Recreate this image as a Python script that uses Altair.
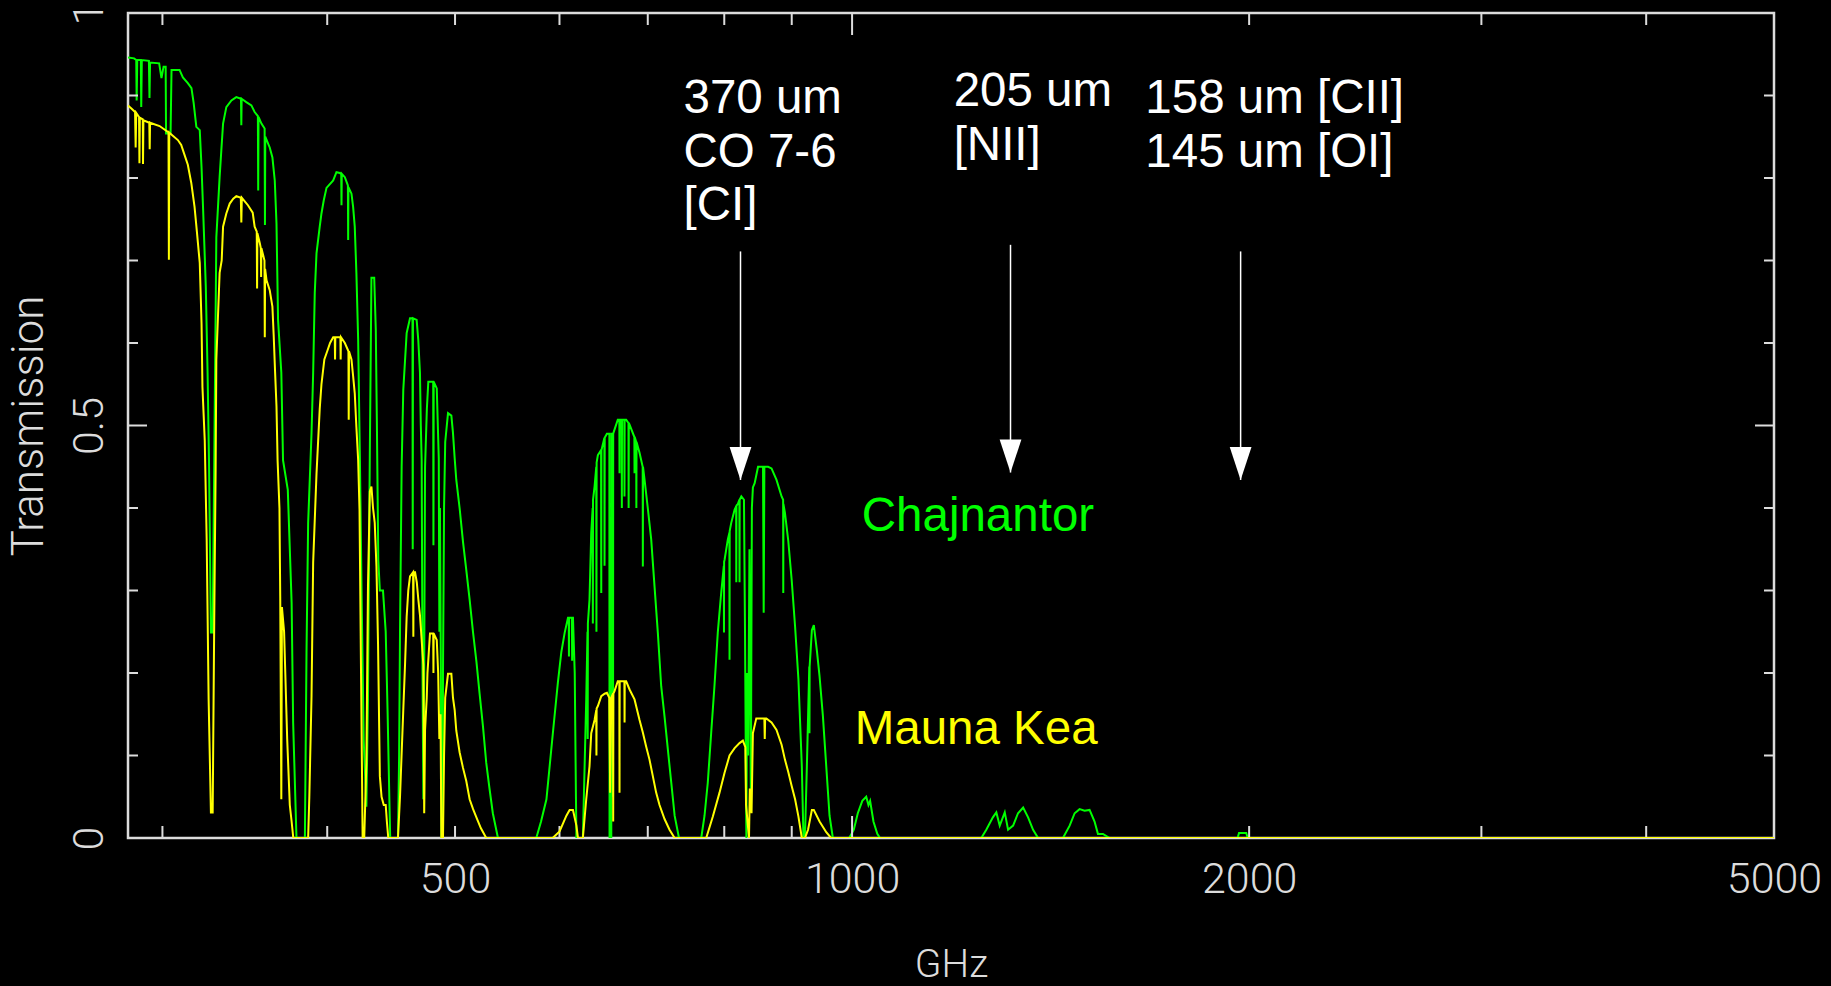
import altair as alt
import pandas as pd

# Atmospheric transmission spectra (frequency in GHz, transmission 0..1)
chaj_ghz = [
    282.5, 285.5, 286.6, 286.8, 287.1, 288.9, 289.1, 289.4, 293.0, 293.3, 293.6, 298.3, 299.5, 300.6, 301.7, 301.9,
    304.3, 304.8, 309.1, 310.9, 313.6, 315.6, 316.8, 318.3, 320.2, 321.2, 322.1, 323.6, 324.6, 325.4, 326.5, 327.5,
    328.4, 329.6, 331.5, 332.5, 333.5, 335.4, 338.4, 341.3, 344.1, 344.3, 344.5, 347.3, 350.4, 352.4, 354.4, 354.6,
    354.8, 356.6, 358.6, 358.8, 359.0, 361.8, 363.5, 365.0, 366.1, 367.1, 369.2, 370.3, 373.4, 375.9, 376.9, 379.1,
    384.7, 385.8, 386.9, 389.2, 390.3, 391.4, 392.6, 394.8, 396.0, 397.6, 399.5, 404.2, 406.5, 408.9, 409.9, 410.1,
    410.3, 412.5, 414.7, 414.9, 415.1, 417.3, 418.5, 419.7, 420.9, 422.2, 423.5, 424.8, 426.3, 428.3, 429.5, 430.9,
    432.1, 434.2, 435.4, 436.2, 437.3, 438.5, 440.9, 443.0, 444.5, 445.8, 446.5, 452.6, 453.5, 454.2, 455.5, 456.8,
    459.5, 462.2, 464.2, 464.4, 464.6, 467.6, 468.9, 470.3, 471.0, 471.7, 472.4, 473.1, 473.8, 474.5, 476.0, 477.2,
    481.3, 481.5, 481.7, 484.3, 486.0, 486.5, 487.0, 487.8, 488.3, 489.3, 489.6, 490.5, 491.5, 493.9, 496.8, 498.2,
    499.7, 501.1, 504.0, 507.0, 509.9, 512.9, 515.9, 519.0, 521.9, 525.0, 528.0, 531.0, 534.1, 538.9,
    576.2, 581.0, 586.5, 593.1, 598.3, 601.9, 605.5, 609.0, 609.8, 610.0, 610.2, 613.2, 613.4, 613.6, 614.3, 616.2,
    617.5, 618.0, 625.0, 628.7, 630.1, 630.3, 630.5, 632.3, 634.2, 635.8, 636.0, 636.2, 637.9, 639.8, 640.0, 640.2,
    641.6, 645.2, 645.4, 645.6, 648.9, 649.1, 649.3, 651.8, 654.6, 654.8, 656.8, 657.0, 658.6, 658.8, 659.0, 660.5,
    664.3, 666.1, 666.3, 666.5, 668.8, 669.0, 669.2, 671.9, 672.1, 672.3, 674.1, 676.8, 677.0, 677.2, 678.1, 683.8,
    684.0, 684.2, 686.0, 686.2, 686.4, 690.0, 693.8, 694.0, 694.2, 696.1, 700.0, 704.2, 708.3, 712.4, 716.6, 720.8,
    725.0, 729.3, 733.6, 739.2,
    768.5, 772.9, 777.3, 781.9, 786.4, 791.0, 795.7, 799.4, 799.6, 799.8, 800.4, 805.0, 807.2, 807.4, 807.6, 809.8,
    814.6, 816.8, 817.0, 817.2, 819.3, 821.4, 821.6, 821.8, 824.2, 828.0, 829.5, 831.0, 831.5, 832.5, 834.0, 836.0,
    838.0, 839.5, 841.0, 843.6, 848.6, 853.6, 856.0, 857.0, 858.0, 863.6, 868.8, 876.4, 884.2, 886.6, 886.8, 887.0,
    889.4, 894.6, 899.9, 905.3, 910.6, 916.0,
    918.6, 921.0, 924.1, 928.0, 928.3, 928.6, 932.2, 935.4, 940.4, 944.8, 950.3, 955.9, 961.4, 967.0,
    995.0, 1003.0, 1010.0, 1018.0, 1025.0, 1029.0, 1032.0, 1038.0, 1045.0, 1050.0,
    1253.0, 1264.0, 1278.6, 1286.4, 1294.0, 1305.4, 1313.0, 1324.6, 1336.0, 1348.0, 1359.7, 1371.6, 1383.6,
    1445.0, 1462.0, 1474.8, 1487.6, 1500.6, 1513.8, 1527.0, 1536.0, 1549.5, 1567.7,
    1960.0, 1965.0, 1990.0, 1995.0, 5000.0,
]
chaj_trans = [
    .946, .945, .943, .894, .943, .943, .886, .943, .942, .897, .940, .939, .921, .935, .935, .854,
    .854, .931, .931, .922, .915, .909, .891, .862, .858, .813, .761, .668, .564, .458, .249, .249,
    .455, .728, .801, .834, .866, .886, .894, .898, .896, .864, .896, .892, .888, .880, .875, .785,
    .874, .866, .860, .743, .850, .837, .825, .797, .745, .628, .564, .458, .422, .285, .140, 0,
    0, .225, .382, .491, .564, .661, .709, .741, .757, .773, .788, .797, .807, .806, .805, .767,
    .805, .801, .791, .725, .789, .781, .765, .741, .685, .604, .458, .289, .119, .038, .168, .470,
    .679, .679, .616, .507, .337, .30, .30, .25, .15, .05, 0, 0, .10, .25, .45, .543,
    .612, .630, .630, .35, .630, .628, .604, .564, .50, .458, .20, .047, .20, .45, .52, .553,
    .553, .355, .553, .545, .46, .25, .40, .20, 0, 0, .20, .40, .48, .515, .512, .491,
    .46, .434, .40, .359, .325, .289, .25, .214, .175, .135, .091, .06, .03, 0,
    0, .02, .047, .127, .188, .225, .249, .267, .267, .22, .267, .267, .215, .267, .267, .20,
    .05, 0, 0, .168, .25, .12, .26, .289, .37, .40, .26, .41, .426, .45, .25, .455,
    .464, .47, .297, .47, .485, .33, .485, .49, .49, 0, 0, .49, .49, .05, .49, .495,
    .507, .507, .442, .507, .507, .40, .507, .507, .414, .507, .507, .503, .40, .503, .501, .486,
    .442, .486, .48, .40, .48, .467, .45, .329, .45, .434, .40, .362, .305, .249, .184, .147,
    .107, .067, .027, 0,
    0, .027, .067, .127, .184, .249, .297, .33, .249, .335, .337, .362, .37, .216, .372, .382,
    .398, .402, .31, .403, .405, .41, .31, .41, .414, .41, .25, .05, 0, .20, .10, .35,
    .05, .40, .425, .430, .450, .450, .45, .273, .45, .450, .448, .434, .414, .41, .297, .405,
    .394, .36, .313, .256, .192, .087,
    0, 0, .087, .208, .127, .208, .252, .258, .227, .196, .148, .087, .027, 0,
    0, .01, .03, .045, .05, .04, .045, .02, .005, 0,
    0, .01, .025, .031, .015, .031, .01, .015, .03, .037, .025, .01, 0,
    0, .015, .03, .035, .033, .034, .02, .005, .005, 0,
    0, .006, .006, 0, 0,
]

mk_ghz = [
    282.5, 284.3, 286.0, 286.3, 286.6, 288.0, 288.2, 288.4, 289.9, 290.0, 290.2, 293.2, 293.4, 293.6, 298.5, 302.8,
    303.2, 303.4, 303.6, 308.2, 310.0, 311.8, 313.6, 315.5, 317.3, 318.6, 320.2, 321.2, 321.7, 323.0, 324.1, 325.2,
    326.5, 327.5, 328.4, 329.2, 329.6, 331.5, 332.7, 333.5, 335.4, 337.4, 339.5, 341.3, 344.0, 344.3, 344.6, 348.3,
    351.2, 352.4, 353.7, 353.9, 354.1, 355.6, 356.2, 356.4, 356.6, 358.5, 358.7, 358.9, 359.8, 361.8, 363.5, 364.3,
    365.2, 366.1, 366.8, 368.0, 368.5, 369.2, 369.6, 371.0, 373.0, 374.7, 375.9, 377.0, 386.9, 387.7, 389.2, 390.3,
    392.6, 394.8, 396.0, 398.0, 400.0, 402.0, 404.2, 405.3, 405.5, 405.7, 409.3, 409.5, 409.7, 412.5, 415.1, 415.3,
    415.5, 417.3, 418.5, 419.7, 420.9, 422.2, 423.2, 424.4, 425.5, 426.7, 428.3, 429.5, 430.9, 432.1, 433.3, 434.6,
    435.9, 437.1, 438.5, 439.8, 441.5, 443.0, 443.9, 445.0, 452.6, 454.2, 456.8, 458.2, 459.5, 460.8, 462.2, 464.7,
    464.9, 465.1, 466.3, 467.7, 468.9, 470.3, 471.7, 473.1, 473.8, 474.5, 475.9, 476.5, 478.6, 481.3, 481.5, 481.7,
    484.3, 485.5, 486.5, 487.5, 488.2, 489.6, 490.5, 491.5, 493.9, 496.8, 498.2, 499.7, 501.1, 504.0, 507.0, 509.9,
    512.9, 516.0, 519.0, 523.0, 528.0,
    592.9, 600.1, 607.3, 610.7, 614.3, 618.0, 619.7,
    625.0, 628.7, 632.3, 634.2, 637.9, 639.8, 640.0, 640.2, 641.6, 645.4, 649.2, 651.8, 654.5, 655.5, 656.8, 658.8,
    659.0, 659.2, 660.5, 664.3, 666.1, 666.3, 666.5, 672.0, 672.2, 672.4, 674.1, 678.1, 684.0, 690.0, 694.0, 698.0,
    702.1, 706.2, 710.3, 714.5, 720.8, 727.1, 733.6,
    775.2, 784.2, 793.4, 800.4, 807.4, 814.6, 821.6, 826.4, 830.0, 831.0, 835.3, 836.5, 839.0, 841.0, 846.0, 858.0,
    858.6, 859.2, 861.0, 868.8, 876.4, 884.2, 889.4, 894.6, 899.9, 905.3, 910.6, 916.0,
    921.0, 926.0, 932.2, 935.4, 944.8, 955.9, 964.0, 5000.0,
]
mk_trans = [
    .888, .884, .880, .837, .879, .874, .818, .873, .871, .817, .870, .867, .835, .867, .863, .856,
    .856, .701, .855, .846, .840, .828, .816, .794, .765, .735, .697, .624, .547, .482, .361, .168,
    .031, .031, .265, .446, .58, .685, .70, .741, .757, .769, .775, .778, .776, .746, .776, .767,
    .758, .741, .735, .666, .733, .721, .715, .68, .715, .70, .607, .69, .676, .664, .644, .61,
    .565, .523, .458, .40, .293, .047, .28, .25, .12, .04, .02, 0, 0, .05, .172, .334,
    .442, .52, .55, .58, .59, .60, .607, .607, .58, .607, .607, .58, .607, .60, .59, .507,
    .59, .58, .56, .539, .498, .458, .398, .188, 0, 0, .091, .305, .42, .426, .40, .382,
    .329, .236, .075, .05, .04, .04, .02, 0, 0, .05, .155, .21, .268, .30, .317, .322,
    .244, .322, .322, .31, .29, .27, .24, .21, .03, .131, .17, .20, .248, .248, .20, .248,
    .24, .20, .12, .15, 0, 0, .10, .17, .199, .199, .17, .155, .13, .104, .085, .069,
    .047, .035, .025, .012, 0,
    0, .008, .027, .034, .034, .015, 0,
    0, .047, .087, .127, .143, .155, .10, .157, .16, .172, .175, .176, .17, .055, .17, .175,
    .02, .175, .178, .19, .19, .055, .19, .19, .14, .19, .19, .18, .168, .143, .128, .111,
    .095, .075, .055, .04, .023, .01, 0,
    0, .026, .055, .079, .10, .109, .115, .118, .11, .04, 0, .06, .03, .127, .145, .145,
    .12, .145, .145, .14, .131, .113, .095, .08, .063, .047, .026, 0,
    0, .01, .034, .034, .02, .007, 0, 0,
]

# Axis ticks and labels
x_minor_ticks = [300, 400, 500, 600, 700, 800, 900, 2000, 3000, 4000]
x_major_ticks = [1000]
x_labels = [500, 1000, 2000, 5000]
y_minor_ticks = [0.1, 0.2, 0.3, 0.4, 0.6, 0.7, 0.8, 0.9]
y_major_ticks = [0.0, 0.5, 1.0]

# Line identifications with arrows
arrow_ghz = [823.0, 1318.6, 1970.5]
arrow_top = [0.711, 0.719, 0.711]
arrow_tip = [0.434, 0.443, 0.434]

note_text = ["370 um", "CO 7-6", "[CI]", "205 um", "[NII]", "158 um [CII]", "145 um [OI]"]
note_ghz = [745.0, 745.0, 745.0, 1194.0, 1194.0, 1668.5, 1668.5]
note_trans = [0.879, 0.813, 0.749, 0.887, 0.822, 0.879, 0.813]

site_text = ["Chajnantor", "Mauna Kea"]
site_ghz = [1017.0, 1004.5]
site_trans = [0.372, 0.114]
site_color = ["#00ff00", "#ffff00"]

W, H = 1646, 825
FRAME = "#dcdcdc"
AXIS_FONT = "Roboto, DejaVu Sans, sans-serif"
NOTE_FONT = "Liberation Sans, Arial, sans-serif"

chaj = pd.DataFrame({"ghz": chaj_ghz, "trans": chaj_trans})
mk = pd.DataFrame({"ghz": mk_ghz, "trans": mk_trans})

x_scale = alt.Scale(type="log", domain=[282.5, 5000], nice=False)
y_scale = alt.Scale(domain=[0, 1], nice=False, zero=False)

x_axis = alt.Axis(
    values=x_labels, format="d", ticks=False, domain=False, grid=False,
    labelFont=AXIS_FONT, labelFontSize=43, labelFontWeight=300, labelColor=FRAME, labelPadding=20,
    labelFlush=False, labelOverlap=False, labelBound=False,
    title="GHz", titleFont=AXIS_FONT, titleFontSize=39, titleFontWeight=300,
    titleColor=FRAME, titleX=W / 2, titleY=126, titleAlign="center", titleBaseline="middle",
)
y_axis = alt.Axis(
    values=y_major_ticks, format="~g", ticks=False, domain=False, grid=False,
    labelFont=AXIS_FONT, labelFontSize=43, labelFontWeight=300, labelColor=FRAME, labelPadding=17,
    labelAngle=270, labelAlign="center", labelBaseline="bottom",
    labelFlush=False, labelOverlap=False, labelBound=False,
    title="Transmission", titleFont=AXIS_FONT, titleFontSize=44, titleFontWeight=300,
    titleColor=FRAME, titleAngle=270, titleX=-99, titleY=H / 2,
    titleAlign="center", titleBaseline="middle",
)

X = alt.X("ghz:Q", scale=x_scale, axis=x_axis)
Y = alt.Y("trans:Q", scale=y_scale, axis=y_axis)

green = alt.Chart(chaj).mark_line(color="#00ff00", strokeWidth=2, clip=True).encode(x=X, y=Y)
yellow = alt.Chart(mk).mark_line(color="#ffff00", strokeWidth=2, clip=True).encode(x=X, y=Y)


# Inward ticks on all four sides of the frame
def xticks(values, edge, length):
    return alt.Chart(pd.DataFrame({"ghz": values})).mark_rule(color=FRAME, strokeWidth=2).encode(
        x=X, y=alt.value(edge), y2=alt.value(edge + length),
    )


def yticks(values, edge, length):
    return alt.Chart(pd.DataFrame({"trans": values})).mark_rule(color=FRAME, strokeWidth=2).encode(
        y=Y, x=alt.value(edge), x2=alt.value(edge + length),
    )


ticks = [
    xticks(x_minor_ticks, H, -12), xticks(x_major_ticks, H, -22),
    xticks(x_minor_ticks, 0, 12), xticks(x_major_ticks, 0, 22),
    yticks(y_minor_ticks, 0, 10), yticks(y_major_ticks, 0, 19),
    yticks(y_minor_ticks, W, -10), yticks(y_major_ticks, W, -19),
]

arrows = pd.DataFrame({"ghz": arrow_ghz, "trans": arrow_top, "tip": arrow_tip})
shafts = alt.Chart(arrows).mark_rule(color="white", strokeWidth=1.5).encode(x=X, y=Y, y2="tip:Q")
heads = alt.Chart(arrows).mark_point(
    shape="M-0.66,-2L0.66,-2L0,0Z", size=1089, filled=True, color="white", opacity=1
).encode(x=X, y=alt.Y("tip:Q", scale=y_scale, axis=y_axis))

notes = alt.Chart(pd.DataFrame({"text": note_text, "ghz": note_ghz, "trans": note_trans})).mark_text(
    font=NOTE_FONT, fontSize=47.5, color="white", align="left", baseline="alphabetic"
).encode(x=X, y=Y, text="text:N")

sites = alt.Chart(pd.DataFrame({"text": site_text, "ghz": site_ghz, "trans": site_trans, "color": site_color})).mark_text(
    font=NOTE_FONT, fontSize=47.5, align="left", baseline="alphabetic"
).encode(x=X, y=Y, text="text:N", color=alt.Color("color:N", scale=None))

chart = alt.layer(green, *ticks, yellow, shafts, heads, notes, sites).properties(
    width=W, height=H,
    padding={"left": 128, "top": 13, "right": 57, "bottom": 148},
    autosize=alt.AutoSizeParams(type="none"),
    background="black",
).configure_view(stroke=FRAME, strokeWidth=2.5)

chart.save("out.html", embed_options={"renderer": "svg", "actions": False})
